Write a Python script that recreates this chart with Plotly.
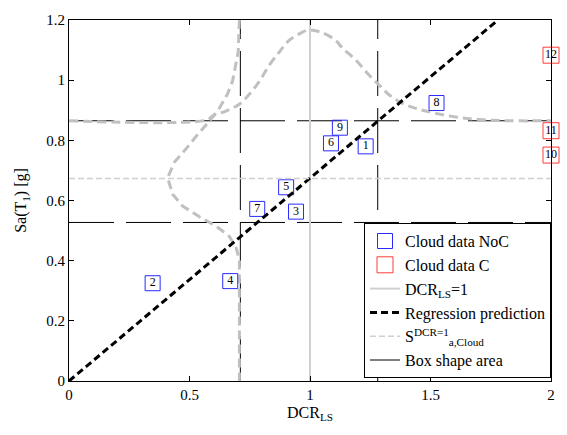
import plotly.graph_objects as go

# ---- data ----
noc_labels = ["1", "2", "3", "4", "5", "6", "7", "8", "9"]
noc_dcr = [1.231, 0.347, 0.942, 0.669, 0.901, 1.087, 0.781, 1.525, 1.124]
noc_sa = [0.780, 0.325, 0.563, 0.332, 0.644, 0.790, 0.572, 0.924, 0.842]

c_labels = ["10", "11", "12"]
c_dcr = [2.0, 2.0, 2.0]
c_sa = [0.751, 0.832, 1.083]

dcr_one_x = [1.0, 1.0]
dcr_one_y = [0.0, 1.2]

reg_dcr = [0.0, 1.78]
reg_sa = [0.0, 1.2]

sa_cloud = 0.673
sa_cloud_x = [0.0, 2.0]
sa_cloud_y = [sa_cloud, sa_cloud]

box_dcr = [0.711, 1.281]
box_sa = [0.527, 0.865]

# pdf of Sa drawn about DCR = 0.707 (vertical curve)
pdf_sa_dcr = [0.707, 0.702, 0.694, 0.678, 0.657, 0.624, 0.591, 0.554, 0.521, 0.488,
              0.438, 0.409, 0.430, 0.471, 0.541, 0.612, 0.665, 0.694, 0.707, 0.707]
pdf_sa_sa = [1.200, 1.093, 1.060, 0.995, 0.953, 0.907, 0.872, 0.839, 0.807, 0.774,
             0.728, 0.676, 0.621, 0.582, 0.546, 0.514, 0.481, 0.442, 0.403, 0.0]

# pdf of DCR drawn about Sa = 0.865 (horizontal curve)
pdf_dcr_dcr = [0.0, 0.574, 0.595, 0.653, 0.707, 0.748, 0.789, 0.831, 0.872, 0.913,
               0.955, 0.996, 1.050, 1.107, 1.132, 1.190, 1.244, 1.285, 1.326, 1.380,
               1.450, 1.533, 1.628, 1.727, 1.835, 2.0]
pdf_dcr_sa = [0.865, 0.868, 0.881, 0.898, 0.920, 0.953, 0.995, 1.050, 1.093, 1.132,
              1.154, 1.167, 1.158, 1.132, 1.109, 1.067, 1.018, 0.985, 0.953, 0.924,
              0.904, 0.888, 0.875, 0.868, 0.865, 0.865]

FONT = "Liberation Serif"
BLUE = "#2a2aff"
RED = "#ff3b3b"
LGRAY = "#d0d0d0"
CGRAY = "#c0c0c0"

fig = go.Figure()

# box shape lines (dashed in the plot)
for xv in box_dcr:
    fig.add_trace(go.Scatter(x=[xv, xv], y=[0, 1.2], mode="lines",
                             line=dict(color="black", width=1, dash="45px,12px"),
                             showlegend=False, hoverinfo="skip"))
for yv in box_sa:
    fig.add_trace(go.Scatter(x=[0, 2], y=[yv, yv], mode="lines",
                             line=dict(color="black", width=1, dash="45px,12px"),
                             showlegend=False, hoverinfo="skip"))

# pdf curves
fig.add_trace(go.Scatter(x=pdf_sa_dcr, y=pdf_sa_sa, mode="lines",
                         line=dict(color=CGRAY, width=3, dash="9px,5px"),
                         showlegend=False, hoverinfo="skip"))
fig.add_trace(go.Scatter(x=pdf_dcr_dcr, y=pdf_dcr_sa, mode="lines", line_shape="spline",
                         line=dict(color=CGRAY, width=3, dash="9px,5px"),
                         showlegend=False, hoverinfo="skip"))

# legend order traces
fig.add_trace(go.Scatter(x=noc_dcr, y=noc_sa, mode="markers+text", text=noc_labels,
                         textposition="middle center",
                         textfont=dict(family=FONT, size=12, color="black"),
                         marker=dict(symbol="square-open", size=15, color=BLUE,
                                     line=dict(width=1, color=BLUE)),
                         name="Cloud data NoC", cliponaxis=False))
fig.add_trace(go.Scatter(x=c_dcr, y=c_sa, mode="markers+text", text=c_labels,
                         textposition="middle center",
                         textfont=dict(family=FONT, size=12, color="black"),
                         marker=dict(symbol="square-open", size=16, color=RED,
                                     line=dict(width=1, color=RED)),
                         name="Cloud data C", cliponaxis=False))
fig.add_trace(go.Scatter(x=dcr_one_x, y=dcr_one_y, mode="lines",
                         line=dict(color=LGRAY, width=2),
                         name="DCR<sub>LS</sub>=1"))
fig.add_trace(go.Scatter(x=reg_dcr, y=reg_sa, mode="lines",
                         line=dict(color="black", width=3, dash="7px,4px"),
                         name="Regression prediction"))
fig.add_trace(go.Scatter(x=sa_cloud_x, y=sa_cloud_y, mode="lines",
                         line=dict(color=LGRAY, width=1.5, dash="6px,3px"),
                         name="S<sup>DCR=1</sup><sub>a,Cloud</sub>"))
fig.add_trace(go.Scatter(x=[None], y=[None], mode="lines",
                         line=dict(color="black", width=1),
                         name="Box shape area"))

axis_common = dict(showline=True, linecolor="black", linewidth=1, mirror="ticks",
                   ticks="inside", ticklen=5, tickcolor="black", showgrid=False,
                   zeroline=False, tickfont=dict(family=FONT, size=15, color="black"))

fig.update_layout(
    width=567, height=435,
    margin=dict(l=69, r=14, t=12, b=54),
    paper_bgcolor="white", plot_bgcolor="white",
    font=dict(family=FONT, size=15, color="black"),
    xaxis=dict(range=[0, 2], tickvals=[0, 0.5, 1, 1.5, 2],
               ticktext=["0", "0.5", "1", "1.5", "2"],
               title=dict(text="DCR<sub>LS</sub>", font=dict(family=FONT, size=16), standoff=4),
               **axis_common),
    yaxis=dict(range=[0, 1.2], tickvals=[0, 0.2, 0.4, 0.6, 0.8, 1.0, 1.2],
               ticktext=["0", "0.2", "0.4", "0.6", "0.8", "1", "1.2"],
               title=dict(text="Sa(T<sub>1</sub>) [g]", font=dict(family=FONT, size=16), standoff=15),
               **axis_common),
    legend=dict(x=1, xanchor="right", y=0.008, yanchor="bottom",
                bgcolor="white", bordercolor="black", borderwidth=1,
                font=dict(family=FONT, size=16, color="black"),
                tracegroupgap=0, itemwidth=30),
    showlegend=True,
)

fig.write_html("out.html")
